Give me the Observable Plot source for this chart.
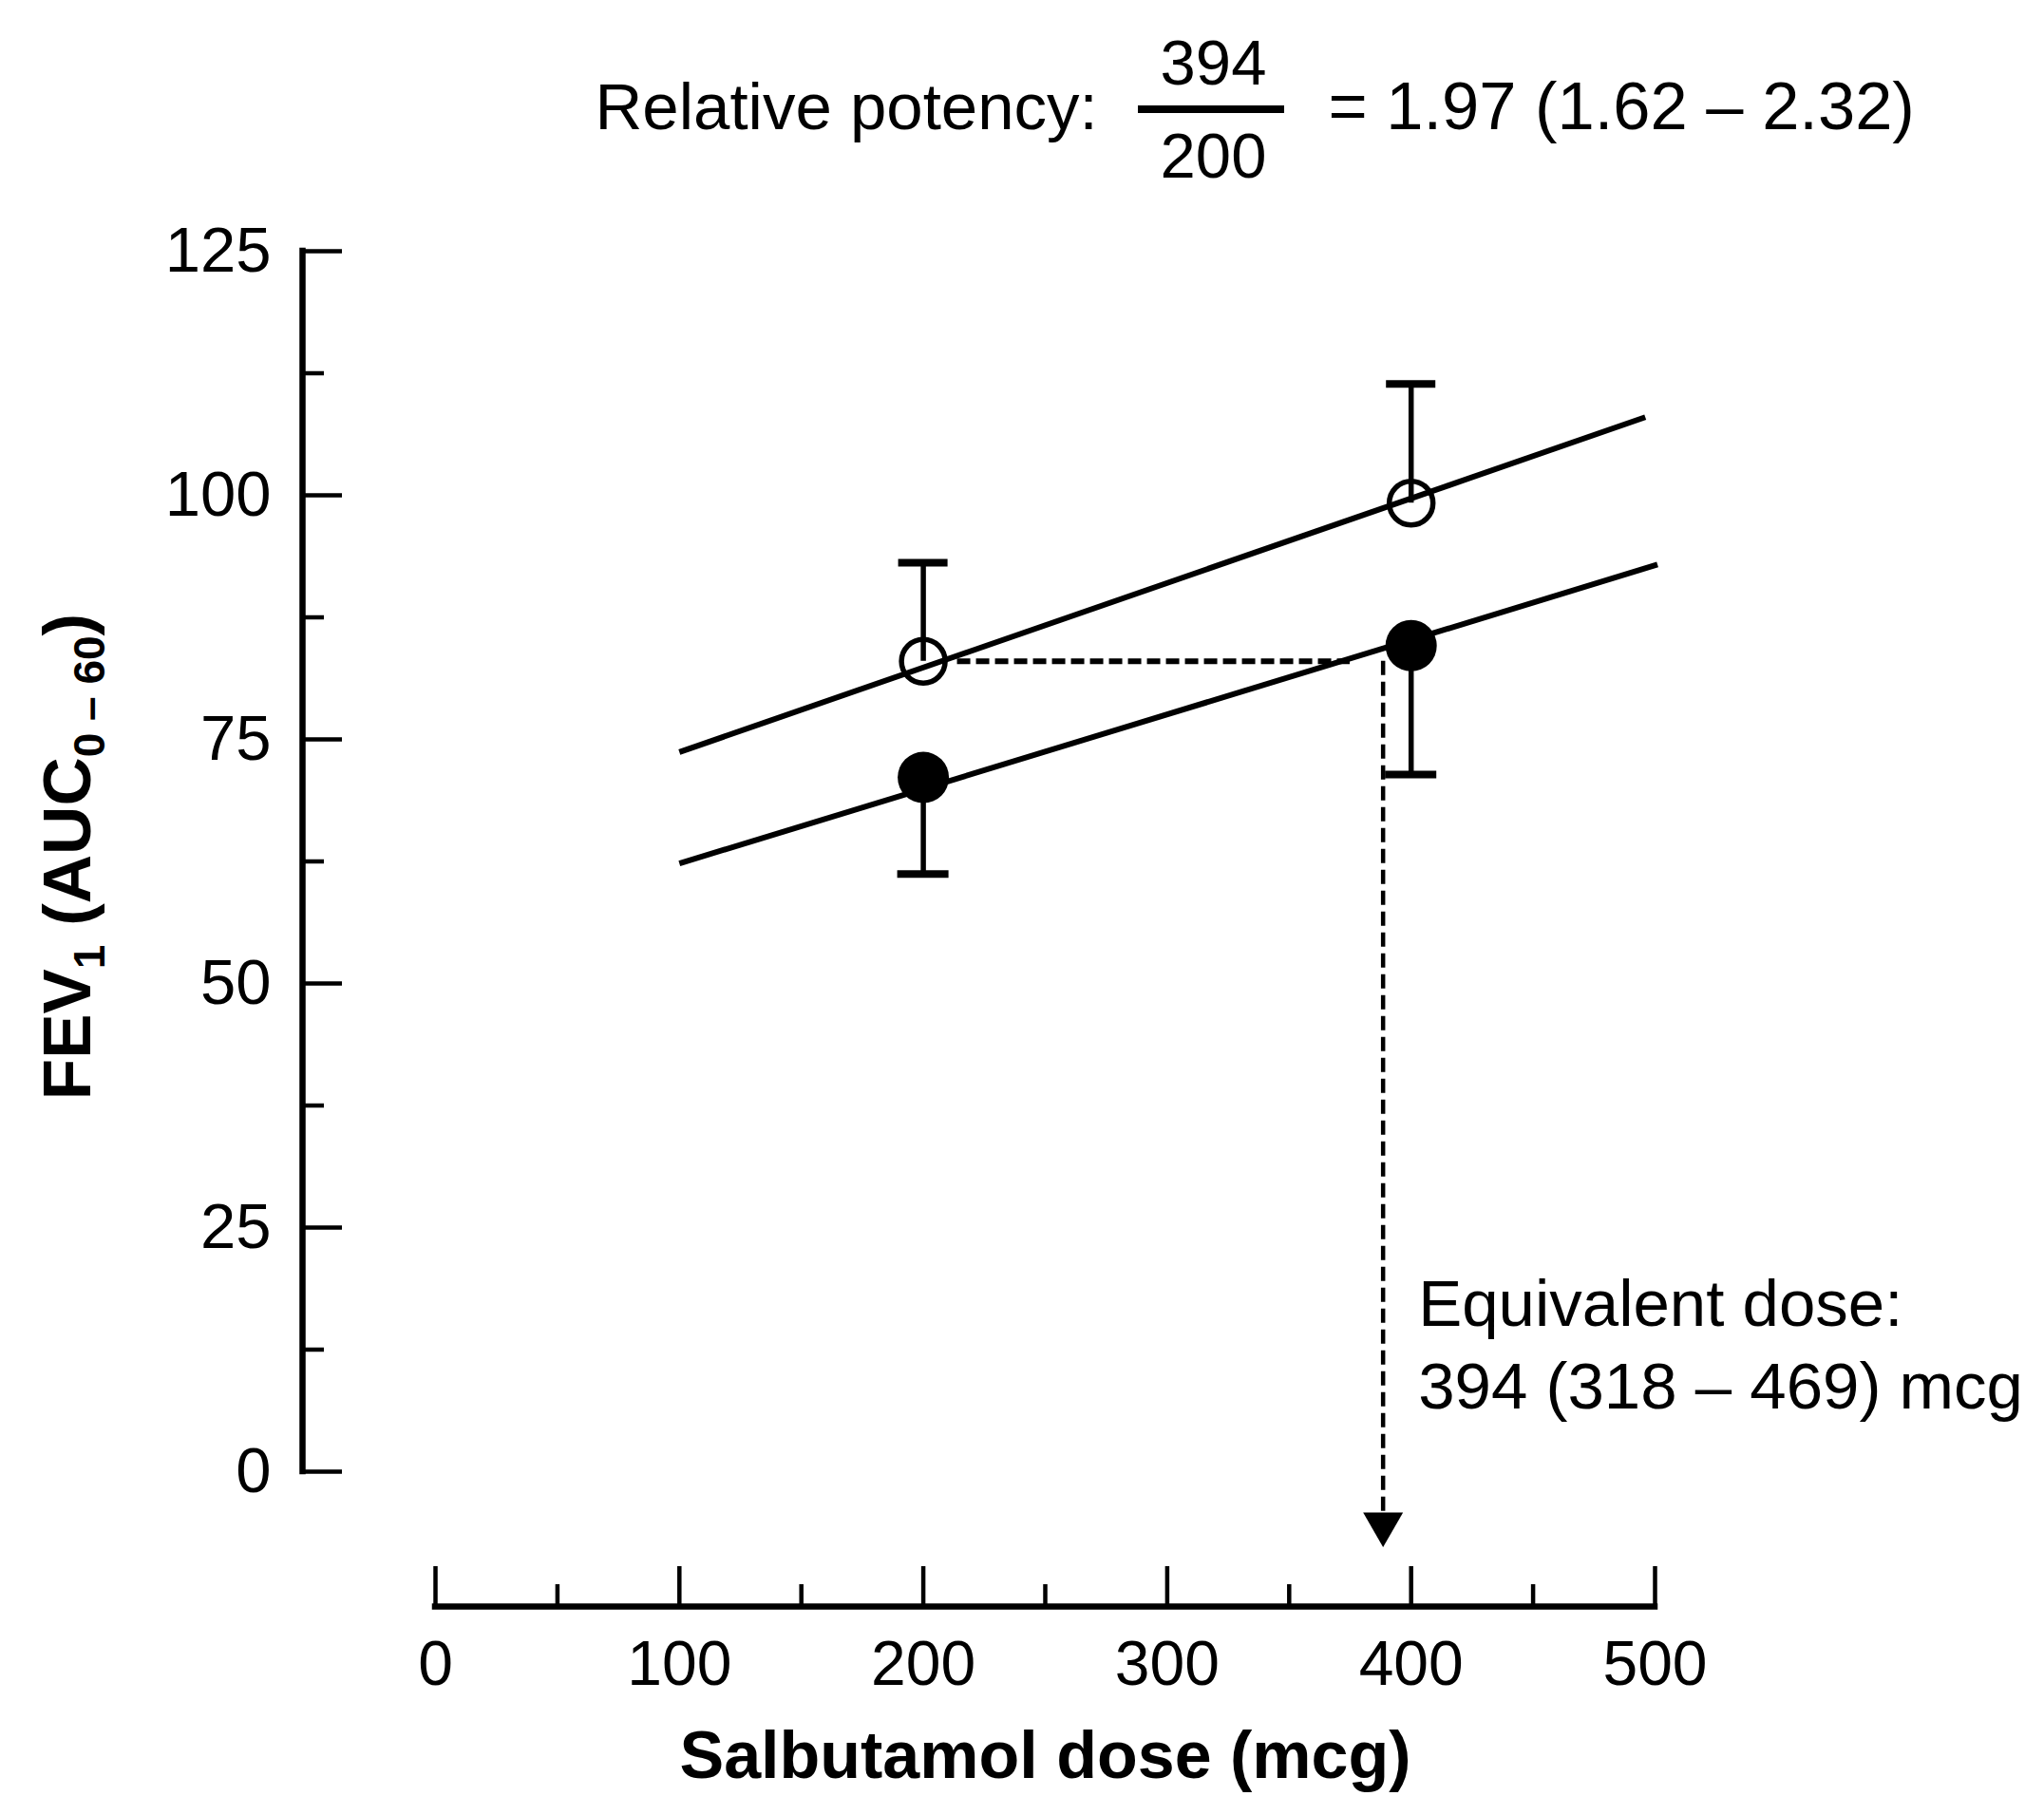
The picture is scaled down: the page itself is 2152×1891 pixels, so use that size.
<!DOCTYPE html>
<html>
<head>
<meta charset="utf-8">
<script src="https://cdn.jsdelivr.net/npm/d3@7"></script>
<script src="https://cdn.jsdelivr.net/npm/@observablehq/plot@0.6"></script>
<style>
  html, body { margin: 0; padding: 0; background: #fff; }
  #chart svg { display: block; }
</style>
</head>
<body>
<div id="chart"></div>
<script>
// ---------------- data ----------------
const doses = [200, 400];
const openMeans = [83.0, 99.2];      // open circles
const openUpper = [93.1, 111.4];     // upper error bar ends (open)
const filledMeans = [71.1, 84.6];    // filled circles
const filledLower = [61.2, 71.4];    // lower error bar ends (filled)

const upperLineX = [100, 496];
const upperLineY = [73.7, 108.0];
const lowerLineX = [100, 501];
const lowerLineY = [62.3, 92.9];

const equivLevel = [83];             // horizontal dashed level
const equivHorizX = [214, 375];      // horizontal dashed extent
const equivDoseX = [388.5];          // vertical dashed position
const equivArrowTip = [-7.7];        // arrow tip (below 0)

const xMajorTicks = [0, 100, 200, 300, 400, 500];
const xMinorTicks = [50, 150, 250, 350, 450];
const yMajorTicks = [0, 25, 50, 75, 100, 125];
const yMinorTicks = [12.5, 37.5, 62.5, 87.5, 112.5];

const titleLeft = ["Relative potency:"];
const titleNumerator = ["394"];
const titleDenominator = ["200"];
const titleRight = ["= 1.97 (1.62 – 2.32)"];
const equivText = ["Equivalent dose:\n394 (318 – 469) mcg"];
const xLabel = ["Salbutamol dose (mcg)"];
const yLabelParts = [["FEV", false], ["1", true], [" (AUC", false], ["0 – 60", true], [")", false]];

// ---------------- tables built from the arrays ----------------
const openData = doses.map((d, i) => ({dose: d, mean: openMeans[i], err: openUpper[i]}));
const filledData = doses.map((d, i) => ({dose: d, mean: filledMeans[i], err: filledLower[i]}));
const upperLine = upperLineX.map((x, i) => ({x, y: upperLineY[i]}));
const lowerLine = lowerLineX.map((x, i) => ({x, y: lowerLineY[i]}));
const dashH = equivLevel.map(y => ({y, x1: equivHorizX[0], x2: equivHorizX[1]}));
const dashV = equivDoseX.map((x, i) => ({x, y1: equivLevel[0], y2: equivArrowTip[i] + 3}));
const arrowHead = equivDoseX.map((x, i) => ({x, y: equivArrowTip[i]}));

// ---------------- layout ----------------
const W = 2152, H = 1891;
const mL = 458, mR = 410, mT = 264, mB = 342;
const frameW = W - mL - mR, frameH = H - mT - mB;
const yAxisDx = -140;   // y axis is offset left of the frame
const xAxisDy = 142;    // x axis is offset below the frame
const majorLen = 42, minorLen = 23;
const FONT = "'Liberation Sans', Arial, Helvetica, sans-serif";

const plot = Plot.plot({
  width: W,
  height: H,
  marginLeft: mL, marginRight: mR, marginTop: mT, marginBottom: mB,
  x: {type: "linear", domain: [0, 500], axis: null},
  y: {type: "linear", domain: [0, 125], axis: null},
  style: {fontFamily: FONT, background: "white", color: "black", overflow: "visible"},
  marks: [
    // y axis (offset)
    Plot.ruleX([0], {y1: 0, y2: 125, dx: yAxisDx, stroke: "black", strokeWidth: 6.5, strokeLinecap: "square"}),
    Plot.tickY(yMajorTicks, {y: d => d, dx: yAxisDx, insetRight: frameW - majorLen, stroke: "black", strokeWidth: 4.5}),
    Plot.tickY(yMinorTicks, {y: d => d, dx: yAxisDx, insetRight: frameW - minorLen, stroke: "black", strokeWidth: 4.5}),
    Plot.text(yMajorTicks, {y: d => d, text: d => String(d), frameAnchor: "left", textAnchor: "end", dx: yAxisDx - 33, fontSize: 67, fill: "black"}),
    // x axis (offset)
    Plot.ruleY([0], {x1: 0, x2: 500, dy: xAxisDy, stroke: "black", strokeWidth: 6.5, strokeLinecap: "square"}),
    Plot.tickX(xMajorTicks, {x: d => d, dy: xAxisDy, insetTop: frameH - majorLen, stroke: "black", strokeWidth: 4.5}),
    Plot.tickX(xMinorTicks, {x: d => d, dy: xAxisDy, insetTop: frameH - minorLen, stroke: "black", strokeWidth: 4.5}),
    Plot.text(xMajorTicks, {x: d => d, text: d => String(d), frameAnchor: "bottom", lineAnchor: "top", dy: 178, fontSize: 66, fill: "black"}),
    // axis titles
    Plot.text(xLabel, {frameAnchor: "bottom", lineAnchor: "bottom", dy: 322, fontWeight: "bold", fontSize: 70, fill: "black"}),
    Plot.text(["__YLABEL__"], {frameAnchor: "left", rotate: -90, dx: -386, dy: -5, textAnchor: "middle", fontWeight: "bold", fontSize: 71, fill: "black"}),
    // regression lines
    Plot.line(upperLine, {x: "x", y: "y", stroke: "black", strokeWidth: 6, strokeLinecap: "butt"}),
    Plot.line(lowerLine, {x: "x", y: "y", stroke: "black", strokeWidth: 6, strokeLinecap: "butt"}),
    // equivalence dashed lines
    Plot.ruleY(dashH, {y: "y", x1: "x1", x2: "x2", stroke: "black", strokeWidth: 6, strokeDasharray: "14,6"}),
    Plot.ruleX(dashV, {x: "x", y1: "y1", y2: "y2", stroke: "black", strokeWidth: 4.5, strokeDasharray: "15,7"}),
    Plot.dot(arrowHead, {x: "x", y: "y", symbol: "triangle", rotate: 180, r: 15.6, dy: -24, fill: "black", stroke: "none"}),
    // error bars
    Plot.ruleX(openData, {x: "dose", y1: "mean", y2: "err", stroke: "black", strokeWidth: 5.5}),
    Plot.ruleY(openData, {y: "err", x1: "dose", x2: "dose", insetLeft: -26, insetRight: -26, stroke: "black", strokeWidth: 8}),
    Plot.ruleX(filledData, {x: "dose", y1: "mean", y2: "err", stroke: "black", strokeWidth: 5.5}),
    Plot.ruleY(filledData, {y: "err", x1: "dose", x2: "dose", insetLeft: -27, insetRight: -27, stroke: "black", strokeWidth: 8}),
    // points
    Plot.dot(openData, {x: "dose", y: "mean", r: 23, fill: "none", stroke: "black", strokeWidth: 5.5}),
    Plot.dot(filledData, {x: "dose", y: "mean", r: 27, fill: "black", stroke: "none"}),
    // annotations
    Plot.text(equivText, {x: equivDoseX[0], frameAnchor: "bottom", textAnchor: "start", lineAnchor: "bottom", lineHeight: 1.25, dx: 37, dy: -67, fontSize: 69, fill: "black"}),
    // title
    Plot.text(titleLeft, {frameAnchor: "top-left", textAnchor: "start", lineAnchor: "bottom", dx: 168, dy: -129, fontSize: 69, fill: "black"}),
    Plot.text(titleNumerator, {frameAnchor: "top-left", textAnchor: "middle", lineAnchor: "bottom", dx: 819, dy: -176, fontSize: 67, fill: "black"}),
    Plot.text(titleDenominator, {frameAnchor: "top-left", textAnchor: "middle", lineAnchor: "bottom", dx: 819, dy: -78, fontSize: 67, fill: "black"}),
    Plot.text(titleRight, {frameAnchor: "top-left", textAnchor: "start", lineAnchor: "bottom", dx: 940, dy: -129, fontSize: 70.5, fill: "black"})
  ]
});

// y label with subscripts
d3.select(plot).selectAll("text").filter(function() { return this.textContent === "__YLABEL__"; })
  .each(function() {
    const t = d3.select(this);
    t.text(null);
    let shifted = false;
    for (const [s, sub] of yLabelParts) {
      const sp = t.append("tspan").text(s);
      if (sub && !shifted) { sp.attr("dy", 15); shifted = true; }
      else if (!sub && shifted) { sp.attr("dy", -15); shifted = false; }
      if (sub) sp.attr("font-size", 46);
    }
  });

// fraction bar in the title
d3.select(plot).append("line")
  .attr("x1", 1198).attr("x2", 1352).attr("y1", 115).attr("y2", 115)
  .attr("stroke", "black").attr("stroke-width", 8);

document.getElementById("chart").appendChild(plot);
</script>
</body>
</html>
